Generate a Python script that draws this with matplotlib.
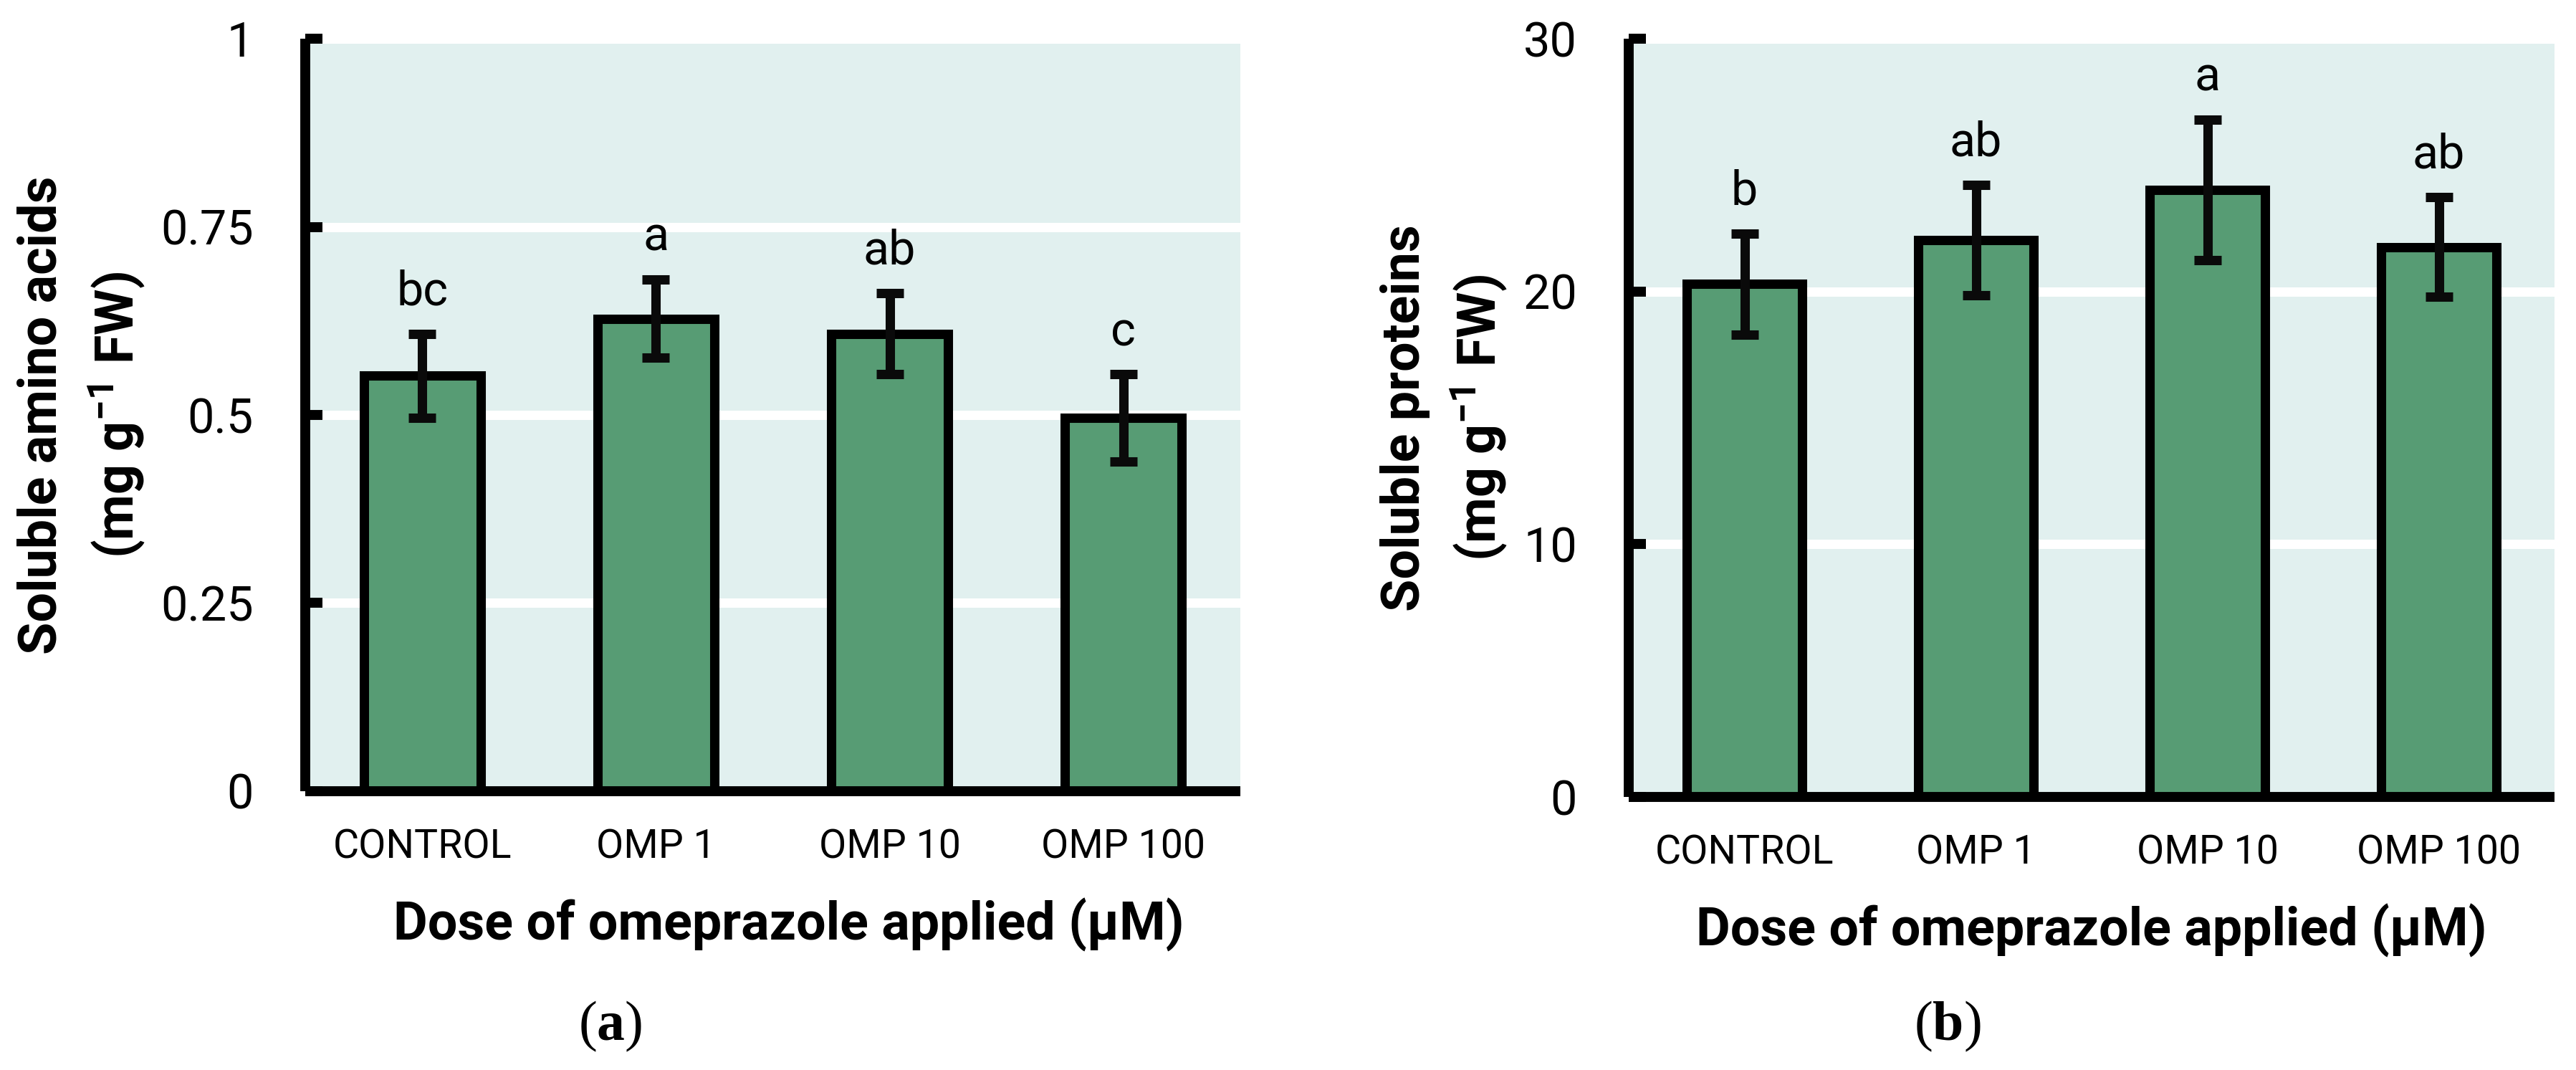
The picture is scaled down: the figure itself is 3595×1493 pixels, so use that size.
import numpy as np
import matplotlib.pyplot as plt

plt.rcParams['font.family'] = ['Roboto', 'DejaVu Sans']
plt.rcParams['mathtext.default'] = 'regular'
plt.rcParams['mathtext.fontset'] = 'custom'
plt.rcParams['mathtext.bf'] = 'Liberation Serif:bold'

doses = ["CONTROL", "OMP 1", "OMP 10", "OMP 100"]

amino_mean = [0.552, 0.628, 0.608, 0.496]
amino_err = [0.056, 0.052, 0.054, 0.058]
amino_letters = ["bc", "a", "ab", "c"]
amino_ticks = [0, 0.25, 0.5, 0.75, 1]
amino_ticklabels = ["0", "0.25", "0.5", "0.75", "1"]

protein_mean = [20.3, 22.03, 24.02, 21.76]
protein_err = [2.0, 2.18, 2.79, 1.97]
protein_letters = ["b", "ab", "a", "ab"]
protein_ticks = [0, 10, 20, 30]
protein_ticklabels = ["0", "10", "20", "30"]

bar_color = '#579C74'
bg_color = '#E1F0EF'


def draw_panel(ax, means, errs, letters, ticks, ticklabels, ylabel):
    x = np.arange(len(doses))
    ax.set_facecolor(bg_color)
    ax.bar(x, means, width=0.5, color=bar_color, edgecolor='black', linewidth=9.4, zorder=2)
    ax.errorbar(x, means, yerr=errs, fmt='none', ecolor='#0a0a0a', elinewidth=9.4,
                capsize=14, capthick=9.4, zorder=3)
    for xi, m, e, lab in zip(x, means, errs, letters):
        ax.annotate(lab, (xi, m + e), xytext=(0, 29), textcoords='offset points',
                    ha='center', va='baseline', fontsize=48)
    ax.set_xlim(-0.5, 3.5)
    ax.set_ylim(ticks[0], ticks[-1])
    ax.set_yticks(ticks)
    ax.set_yticklabels(ticklabels)
    ax.set_xticks(x)
    ax.set_xticklabels(doses)
    ax.set_axisbelow(True)
    ax.grid(axis='y', color='white', linewidth=9.4)
    for s in ['top', 'right']:
        ax.spines[s].set_visible(False)
    for s in ['left', 'bottom']:
        ax.spines[s].set_linewidth(10)
        ax.spines[s].set_capstyle('butt')
    ax.tick_params(axis='y', direction='in', length=17, width=10, pad=52, labelsize=48)
    ax.tick_params(axis='x', length=0, pad=37, labelsize=40)
    ax.set_ylabel(ylabel, fontsize=53, fontweight='bold', labelpad=14, linespacing=1.4)
    ax.set_xlabel('Dose of omeprazole applied (µM)', fontsize=53, fontweight='bold', labelpad=32)


fig = plt.figure(figsize=(35.95, 14.93), dpi=100)
ax_a = fig.add_axes([0.1185, 0.26055, 0.3630, 0.70328])
ax_b = fig.add_axes([0.63227, 0.25519, 0.35939, 0.70864])

draw_panel(ax_a, amino_mean, amino_err, amino_letters, amino_ticks, amino_ticklabels,
           'Soluble amino acids\n(mg g$^{-1}$ FW)')
draw_panel(ax_b, protein_mean, protein_err, protein_letters, protein_ticks, protein_ticklabels,
           'Soluble proteins\n(mg g$^{-1}$ FW)')
ax_a.xaxis.label.set_x(0.517)

fig.text(852 / 3595, 1 - 1432 / 1493, r'($\mathbf{a}$)', family='Liberation Serif',
         fontsize=56, ha='center', va='center')
fig.text(2718 / 3595, 1 - 1432 / 1493, r'($\mathbf{b}$)', family='Liberation Serif',
         fontsize=56, ha='center', va='center')

fig.savefig('out.png', dpi=100)
